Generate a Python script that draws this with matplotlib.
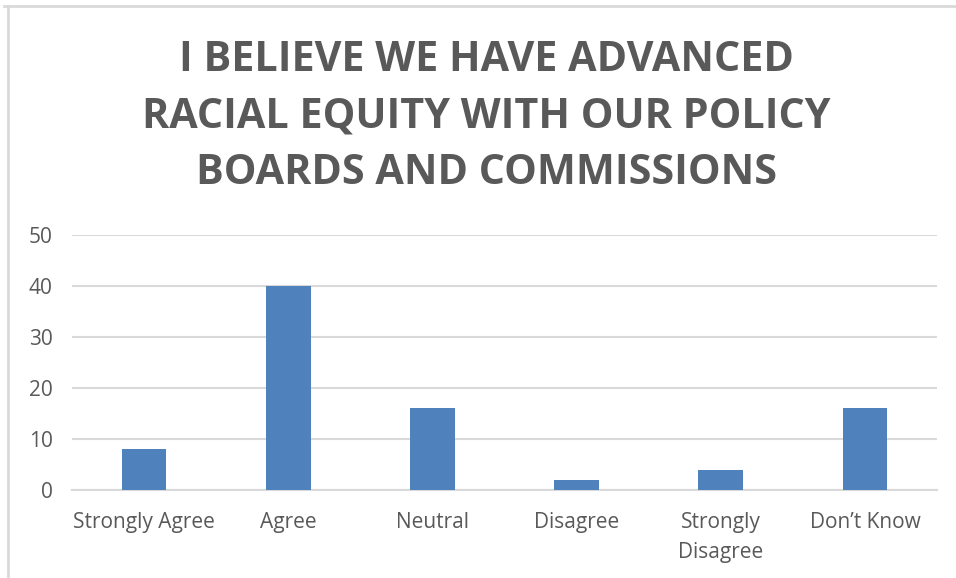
import matplotlib
matplotlib.use("Agg")
import matplotlib.pyplot as plt
from matplotlib.lines import Line2D

categories = ["Strongly Agree", "Agree", "Neutral", "Disagree", "Strongly\nDisagree", "Don\u2019t Know"]
values = [8, 40, 16, 2, 4, 16]
yticks = [0, 10, 20, 30, 40, 50]
title = "I BELIEVE WE HAVE ADVANCED\nRACIAL EQUITY WITH OUR POLICY\nBOARDS AND COMMISSIONS"

W, H = 956, 578
fig = plt.figure(figsize=(W / 100, H / 100), dpi=100)
fig.patch.set_facecolor("white")

# frame lines (top and left)
fig.add_artist(Line2D([4 / W, 1], [1 - 6 / H, 1 - 6 / H], color="#d9d9d9", lw=2, transform=fig.transFigure))
fig.add_artist(Line2D([8 / W, 8 / W], [0, 1 - 6 / H], color="#d9d9d9", lw=2, transform=fig.transFigure))

x0, x1 = 72, 937
y_top, y_bot = 235, 490
ax = fig.add_axes([x0 / W, 1 - y_bot / H, (x1 - x0) / W, (y_bot - y_top) / H])
ax.set_facecolor("white")

xs = list(range(len(categories)))
ax.bar(xs, values, width=0.31, color="#4f81bd", zorder=3)
ax.set_xlim(-0.5, len(categories) - 0.5)
ax.set_ylim(0, 50)
ax.set_yticks(yticks)
ax.set_xticks(xs)
ax.set_xticklabels(categories, fontfamily="Open Sans", fontsize=15, color="#595959", linespacing=1.55)
ax.set_yticklabels([str(v) for v in yticks], fontfamily="Open Sans", fontsize=15, color="#595959")
ax.tick_params(axis="both", length=0)
ax.tick_params(axis="x", pad=16)
ax.tick_params(axis="y", pad=14)
ax.grid(axis="y", color="#d9d9d9", lw=1.5, zorder=0)
for s in ["top", "right", "left"]:
    ax.spines[s].set_visible(False)
ax.spines["bottom"].set_color("#d9d9d9")
ax.spines["bottom"].set_linewidth(1.5)

fig.text(486 / W, 1 - 117 / H, title, ha="center", va="center", fontfamily="Open Sans",
         fontweight="bold", fontsize=29.7, color="#595959", linespacing=1.5)

fig.savefig("out.png", dpi=100, facecolor="white")
